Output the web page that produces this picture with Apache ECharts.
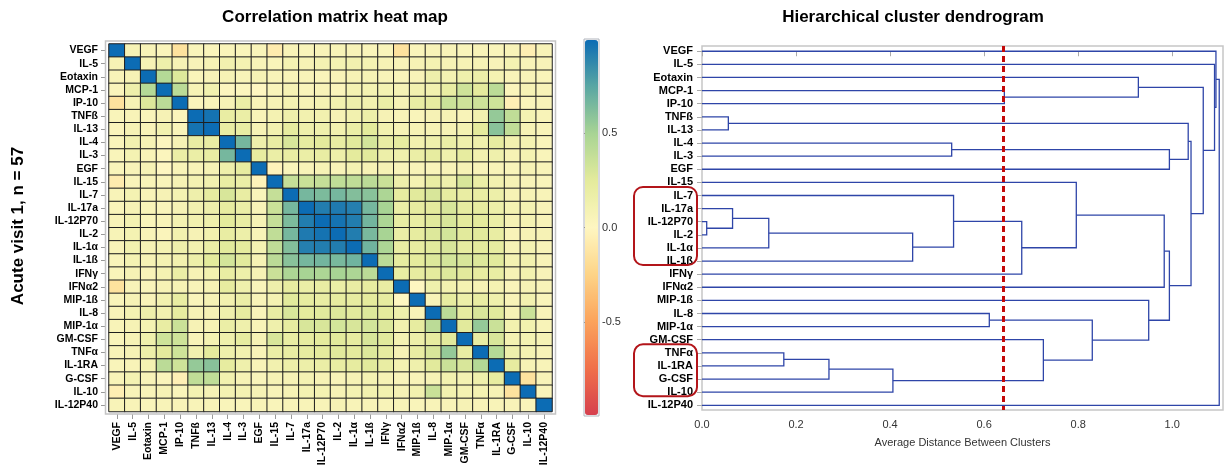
<!DOCTYPE html>
<html><head><meta charset="utf-8">
<script src="https://cdn.jsdelivr.net/npm/echarts@6/dist/echarts.min.js"></script>
<style>html,body{margin:0;padding:0;background:#fff}#c{width:1225px;height:472px}</style>
</head><body><div id="c"></div>
<script>
// ---- data ----
const names = ['VEGF','IL-5','Eotaxin','MCP-1','IP-10','TNFß','IL-13','IL-4','IL-3','EGF','IL-15','IL-7','IL-17a','IL-12P70','IL-2','IL-1α','IL-1ß','IFNγ','IFNα2','MIP-1ß','IL-8','MIP-1α','GM-CSF','TNFα','IL-1RA','G-CSF','IL-10','IL-12P40'];
// lower triangle of the correlation matrix (row i holds columns 0..i)
const corrLower = [
[1],
[0.08,1],
[0.06,0.08,1],
[0.04,0.15,0.45,1],
[-0.15,0.08,0.28,0.42,1],
[0.05,0.06,0.05,0.08,0.04,1],
[0.04,0.08,0.06,0.12,0.05,0.97,1],
[0.05,0.12,0.08,0.02,0.08,0.2,0.2,1],
[0.05,0.1,0.06,0.03,0.18,0.18,0.2,0.66,1],
[0.05,0.06,0.08,0.0,0.06,0.06,0.08,0.15,0.22,1],
[-0.08,0.05,0.06,0.05,0.08,0.1,0.12,0.2,0.18,-0.03,1],
[0.06,0.1,0.06,0.08,0.1,0.15,0.22,0.3,0.2,0.05,0.38,1],
[0.05,0.08,0.06,0.05,0.08,0.12,0.15,0.22,0.18,0.06,0.36,0.66,1],
[0.06,0.1,0.05,0.06,0.1,0.12,0.14,0.25,0.2,0.08,0.38,0.64,0.93,1],
[0.07,0.1,0.06,0.04,0.12,0.08,0.12,0.2,0.16,0.06,0.4,0.66,0.94,0.97,1],
[0.06,0.12,0.08,0.1,0.15,0.12,0.18,0.26,0.24,0.1,0.4,0.62,0.92,0.93,0.93,1],
[0.05,0.1,0.08,0.1,0.12,0.16,0.25,0.32,0.26,0.08,0.42,0.6,0.66,0.67,0.65,0.68,1],
[0.05,0.08,0.06,0.1,0.18,0.08,0.12,0.2,0.16,0.08,0.36,0.48,0.5,0.48,0.5,0.48,0.42,1],
[-0.15,0.06,0.05,0.08,0.08,0.06,0.08,0.22,0.14,0.05,0.15,0.22,0.18,0.2,0.18,0.2,0.22,0.2,1],
[0.05,0.08,0.06,0.12,0.2,0.05,0.08,0.12,0.18,0.06,0.1,0.26,0.22,0.2,0.22,0.22,0.24,0.22,0.0,1],
[0.06,0.1,0.15,0.12,0.22,0.08,0.08,0.14,0.22,0.05,0.2,0.3,0.24,0.26,0.28,0.26,0.28,0.24,0.14,0.06,1],
[0.06,0.08,0.1,0.2,0.36,0.08,0.08,0.18,0.14,0.06,0.14,0.22,0.3,0.3,0.32,0.3,0.32,0.28,0.12,0.22,0.42,1],
[0.05,0.08,0.14,0.34,0.34,0.06,0.1,0.14,0.22,0.08,0.3,0.2,0.22,0.24,0.26,0.22,0.3,0.26,0.1,0.16,0.22,0.26,1],
[0.06,0.08,0.16,0.24,0.34,0.12,0.24,0.14,0.12,0.06,0.18,0.2,0.22,0.24,0.26,0.24,0.28,0.22,0.08,0.2,0.3,0.56,0.2,1],
[0.05,0.06,0.1,0.42,0.34,0.56,0.6,0.22,0.14,0.06,0.12,0.16,0.16,0.18,0.2,0.22,0.26,0.2,0.1,0.14,0.26,0.36,0.3,0.45,1],
[0.06,0.1,0.06,0.04,-0.05,0.4,0.4,0.12,0.08,0.05,0.08,0.08,0.1,0.08,0.06,0.08,0.1,0.08,0.05,0.06,0.08,0.12,0.1,0.14,0.22,1],
[-0.06,0.06,0.06,0.08,0.05,0.1,0.08,0.1,0.1,0.08,0.06,0.08,0.1,0.1,0.08,0.1,0.12,0.12,0.08,0.12,0.36,0.12,0.1,0.1,0.08,-0.15,1],
[0.06,0.06,0.05,0.06,0.06,0.06,0.06,0.05,0.05,0.06,0.05,0.06,0.06,0.06,0.08,0.06,0.06,0.06,0.06,0.05,0.06,0.06,0.08,0.06,0.06,0.06,0.05,1]
];
// dendrogram merges: node ids 0..27 are leaves, merge k creates node 28+k
const mergeLeft   = [5, 13, 12, 30, 31, 11, 33, 10, 35, 20, 23, 38, 39, 22, 37, 19, 36, 3, 2, 7, 47, 28, 49, 46, 1, 0, 53];
const mergeRight  = [6, 14, 29, 15, 16, 32, 17, 34, 18, 21, 24, 25, 26, 40, 41, 42, 43, 4, 45, 8, 9, 48, 44, 50, 51, 52, 27];
const mergeHeight = [0.056, 0.010, 0.065, 0.142, 0.448, 0.535, 0.680, 0.796, 0.983, 0.611, 0.174, 0.270, 0.406, 0.726, 0.830, 0.950, 0.994, 0.643, 0.928, 0.531, 0.994, 1.034, 1.040, 1.066, 1.090, 1.093, 1.100];
const cutHeight = 0.64;
const highlightGroups = [[11, 16], [23, 26]];
const colorTicks = [-0.5, 0, 0.5];
const distTicks = [0, 0.2, 0.4, 0.6, 0.8, 1.0];

// ---- build ----
const heatData = [];
for (let i = 0; i < names.length; i++) {
  for (let j = 0; j < names.length; j++) {
    const v = j <= i ? corrLower[i][j] : corrLower[j][i];
    heatData.push([j, i, v]);
  }
}
const nodeY = names.map((_, i) => i), nodeX = names.map(() => 0);
const links = [];
for (let k = 0; k < mergeLeft.length; k++) {
  const a = mergeLeft[k], b = mergeRight[k], h = mergeHeight[k];
  links.push({ coords: [[nodeX[a], nodeY[a]], [h, nodeY[a]], [h, nodeY[b]], [nodeX[b], nodeY[b]]] });
  nodeY.push((nodeY[a] + nodeY[b]) / 2);
  nodeX.push(h);
}

const FONT = '"Liberation Sans", Arial, Helvetica, sans-serif';
const chart = echarts.init(document.getElementById('c'), null, { renderer: 'canvas' });
const leafIdx = names.map((_, i) => i);

const option = {
  animation: false,
  backgroundColor: '#fff',
  textStyle: { fontFamily: FONT },
  title: [
    { text: 'Correlation matrix heat map', left: 330, textAlign: 'center', top: 4,
      textStyle: { fontFamily: FONT, fontWeight: 'bold', fontSize: 17, color: '#000' } },
    { text: 'Hierarchical cluster dendrogram', left: 908, textAlign: 'center', top: 4,
      textStyle: { fontFamily: FONT, fontWeight: 'bold', fontSize: 17, color: '#000' } }
  ],
  grid: [
    { left: 109, top: 44, width: 443, height: 367.5, show: false },
    { left: 702, top: 46, width: 521, height: 364, show: true, borderColor: '#c6c6c6', borderWidth: 1.5, backgroundColor: 'transparent' },
    { left: 584, top: 39, width: 15, height: 377, show: true, borderColor: '#b0b4bc', borderWidth: 1, backgroundColor: 'transparent' }
  ],
  xAxis: [
    { type: 'category', gridIndex: 0, data: names, position: 'bottom', offset: 2.5,
      axisLine: { show: false }, axisTick: { show: true, length: 5, alignWithLabel: true, lineStyle: { color: '#999' } },
      axisLabel: { interval: 0, rotate: 90, margin: 8, fontFamily: FONT, fontWeight: 'bold', fontSize: 10.5, color: '#000' },
      splitLine: { show: false } },
    { type: 'value', gridIndex: 1, min: 0, max: 1.108, interval: 0.2,
      name: 'Average Distance Between Clusters', nameLocation: 'middle', nameGap: 27,
      nameTextStyle: { fontFamily: FONT, fontSize: 11, color: '#333' },
      axisLine: { show: false }, axisTick: { show: true, length: 5, lineStyle: { color: '#aaa' } },
      axisLabel: { showMaxLabel: false, margin: 9, fontFamily: FONT, fontSize: 11, color: '#333', formatter: v => v.toFixed(1) },
      splitLine: { show: false } },
    { type: 'value', gridIndex: 2, show: false, min: 0, max: 1 }
  ],
  yAxis: [
    { type: 'category', gridIndex: 0, data: names, inverse: true, offset: 3,
      axisLine: { show: false }, axisTick: { show: true, length: 5, alignWithLabel: true, lineStyle: { color: '#999' } },
      axisLabel: { interval: 0, margin: 8, fontFamily: FONT, fontWeight: 'bold', fontSize: 10.5, color: '#000' },
      splitLine: { show: false } },
    { type: 'value', gridIndex: 1, inverse: true, min: -0.4, max: 27.36,
      axisLine: { show: false },
      axisTick: { show: true, length: 5, customValues: leafIdx, lineStyle: { color: '#aaa' } },
      axisLabel: { customValues: leafIdx, margin: 9, fontFamily: FONT, fontWeight: 'bold', fontSize: 11, color: '#000', formatter: v => names[Math.round(v)] },
      splitLine: { show: false } },
    { type: 'value', gridIndex: 2, position: 'right', min: -1, max: 1, interval: 0.5,
      axisLine: { show: false },
      axisTick: { show: true, length: 4, customValues: colorTicks, lineStyle: { color: '#999' } },
      axisLabel: { customValues: colorTicks, margin: 3, fontFamily: FONT, fontSize: 11, color: '#333', formatter: v => v.toFixed(1) },
      splitLine: { show: false } }
  ],
  visualMap: {
    type: 'continuous', seriesIndex: 0, min: -1, max: 1, calculable: false, orient: 'vertical',
    left: 585, top: 40, itemWidth: 13, itemHeight: 375, padding: 0, showLabel: false,
    inRange: { color: ['#d6404e', '#f0704a', '#fba35c', '#fdd487', '#fef6c1', '#e4eb9c', '#a8d494', '#5aa7a3', '#0c6cb4'] }
  },
  series: [
    { type: 'heatmap', xAxisIndex: 0, yAxisIndex: 0, data: heatData, silent: true,
      itemStyle: { borderColor: '#1e1e1e', borderWidth: 1 }, emphasis: { disabled: true } },
    { type: 'lines', coordinateSystem: 'cartesian2d', xAxisIndex: 1, yAxisIndex: 1, polyline: true, silent: true,
      data: links, lineStyle: { color: '#2e45a8', width: 1.3, opacity: 1 } },
    { type: 'line', xAxisIndex: 1, yAxisIndex: 1, data: [], silent: true,
      markLine: { symbol: 'none', silent: true, label: { show: false },
        lineStyle: { color: '#c40a0a', type: [6, 4], width: 3 },
        data: [{ xAxis: cutHeight }] } }
  ],
  graphic: [
    { type: 'rect', id: 'frame', silent: true, z: 1, shape: { x: 105.5, y: 41, width: 450, height: 373 },
      style: { fill: 'none', stroke: '#c4c4c4', lineWidth: 1.5 } },
    { type: 'text', id: 'side', x: 18, y: 226, rotation: Math.PI / 2, silent: true,
      style: { text: 'Acute visit 1, n = 57', font: 'bold 17px ' + FONT, fill: '#000', textAlign: 'center', textVerticalAlign: 'middle' } }
  ]
};
chart.setOption(option);

// highlight boxes around selected clusters, positioned from the dendrogram axis
const boxes = highlightGroups.map((g, k) => {
  const y0 = chart.convertToPixel({ yAxisIndex: 1 }, g[0]);
  const y1 = chart.convertToPixel({ yAxisIndex: 1 }, g[1]);
  return { type: 'rect', id: 'box' + k, silent: true, z: 10,
    shape: { x: 634, y: y0 - 8.5, width: 63, height: (y1 - y0) + 12.5, r: 9 },
    style: { fill: 'none', stroke: '#b3151a', lineWidth: 2 } };
});
chart.setOption({ graphic: boxes });
</script>
</body></html>
